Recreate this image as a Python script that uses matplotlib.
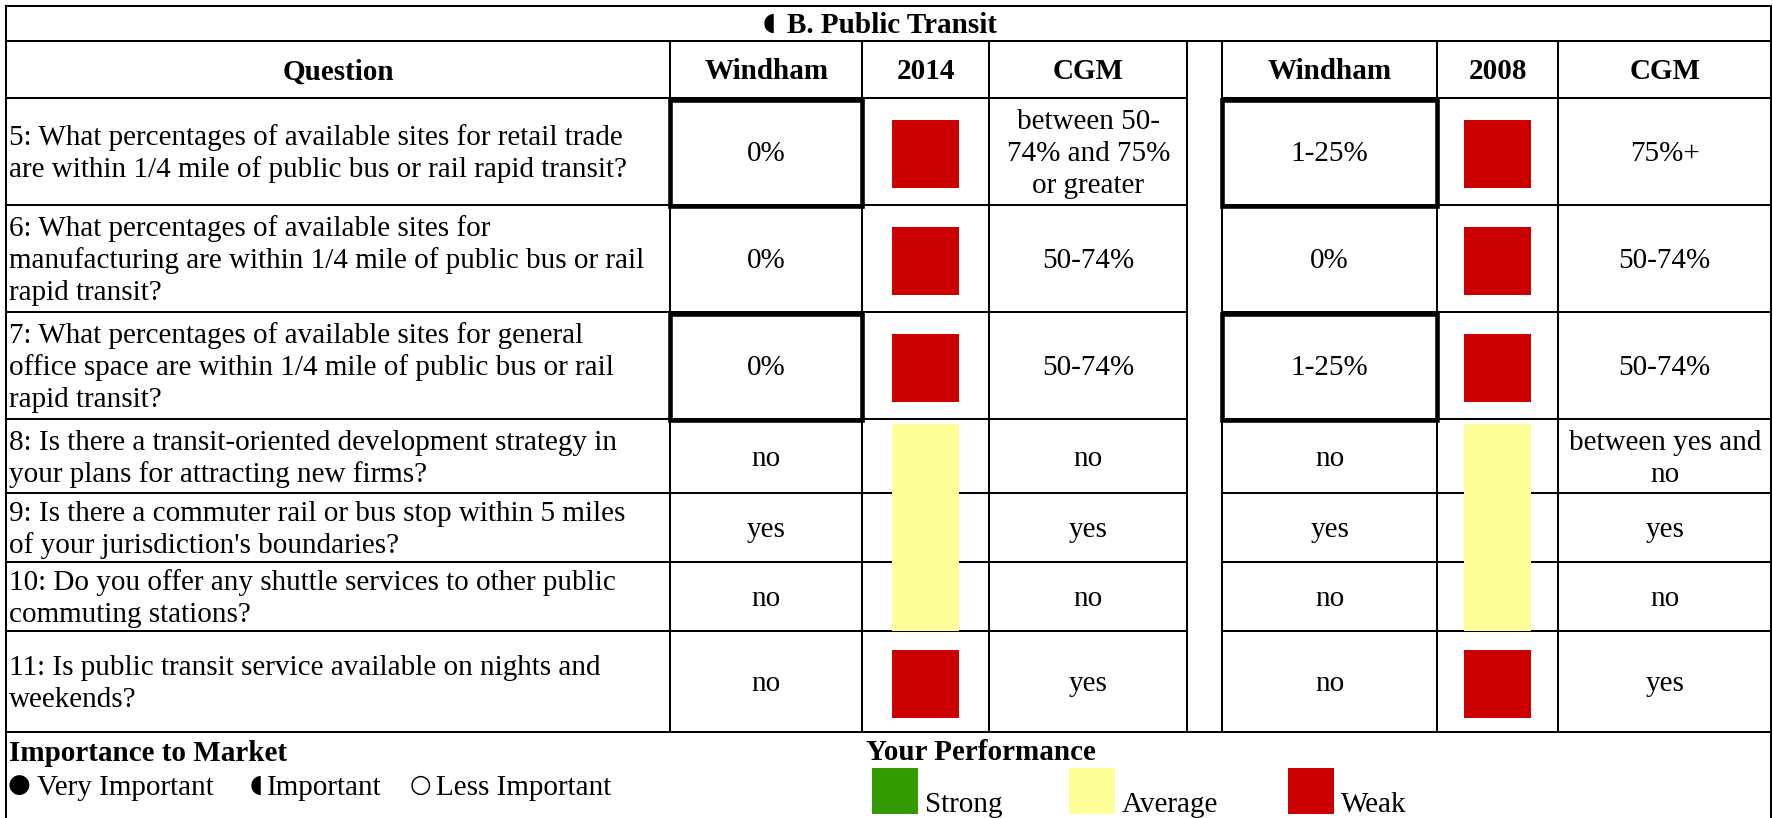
import matplotlib
matplotlib.use("Agg")
import matplotlib.pyplot as plt
from matplotlib.patches import Rectangle
from matplotlib.textpath import TextPath
from matplotlib.font_manager import FontProperties

# ---------------- data ----------------
title_symbol = "◖"
title_text = "B. Public Transit"
headers = ["Question", "Windham", "2014", "CGM", "", "Windham", "2008", "CGM"]
questions = [
    "5: What percentages of available sites for retail trade\nare within 1/4 mile of public bus or rail rapid transit?",
    "6: What percentages of available sites for\nmanufacturing are within 1/4 mile of public bus or rail\nrapid transit?",
    "7: What percentages of available sites for general\noffice space are within 1/4 mile of public bus or rail\nrapid transit?",
    "8: Is there a transit-oriented development strategy in\nyour plans for attracting new firms?",
    "9: Is there a commuter rail or bus stop within 5 miles\nof your jurisdiction's boundaries?",
    "10: Do you offer any shuttle services to other public\ncommuting stations?",
    "11: Is public transit service available on nights and\nweekends?",
]
windham_2014 = ["0%", "0%", "0%", "no", "yes", "no", "no"]
perf_2014 = ["Weak", "Weak", "Weak", "Average", "Average", "Average", "Weak"]
cgm_2014 = ["between 50-\n74% and 75%\nor greater", "50-74%", "50-74%", "no", "yes", "no", "yes"]
windham_2008 = ["1-25%", "0%", "1-25%", "no", "yes", "no", "no"]
perf_2008 = ["Weak", "Weak", "Weak", "Average", "Average", "Average", "Weak"]
cgm_2008 = ["75%+", "50-74%", "50-74%", "between yes and\nno", "yes", "no", "yes"]
flagged = [True, False, True, False, False, False, False]

importance_title = "Importance to Market"
importance_symbols = ["●", "◖", "○"]
importance_labels = ["Very Important", "Important", "Less Important"]
performance_title = "Your Performance"
perf_levels = ["Strong", "Average", "Weak"]
perf_colors = {"Strong": "#339900", "Average": "#FFFF99", "Weak": "#CC0000"}

# ---------------- layout ----------------
W, H = 1774, 818
col_x = [6, 670, 862.5, 989, 1187.5, 1222, 1437.5, 1558.5, 1771]
top_y, title_y, header_y = 6, 41, 98
row_y = [98, 205, 312, 419, 493, 562, 631, 732]
FS = 21
FPX = FS * 100 / 72
PITCH = 32
FAM = ["Liberation Serif", "DejaVu Sans"]
LW = 1.45
LWT = 3.3

fig = plt.figure(figsize=(W / 100, H / 100), dpi=100)
ax = fig.add_axes([0, 0, 1, 1])
ax.set_xlim(0, W)
ax.set_ylim(H, 0)
ax.axis("off")


def hline(y, x0, x1, lw=LW):
    ax.plot([x0, x1], [y, y], color="black", lw=lw, solid_capstyle="projecting", zorder=3)


def vline(x, y0, y1, lw=LW):
    ax.plot([x, x], [y0, y1], color="black", lw=lw, solid_capstyle="projecting", zorder=3)


def cell_text(x, yc, s, ha="center", weight="normal"):
    lines = s.split("\n")
    n = len(lines)
    for i, ln in enumerate(lines):
        yb = yc + (i - (n - 1) / 2) * PITCH + 0.34 * FPX
        ax.text(x, yb, ln, ha=ha, va="baseline", fontsize=FS, family=FAM,
                fontweight=weight, zorder=5)


def symbol(s, x_left, y_bottom, ink_h, weight="normal"):
    """Place a symbol glyph so that its ink has the given height (px)."""
    prop = FontProperties(family="DejaVu Sans", weight=weight)
    ext = TextPath((0, 0), s, size=1, prop=prop).get_extents()
    em_px = ink_h / ext.height
    fs = em_px * 72 / 100
    ax.text(x_left - ext.x0 * em_px, y_bottom + ext.y0 * em_px, s, ha="left",
            va="baseline", fontsize=fs, family="DejaVu Sans", fontweight=weight, zorder=5)


# outer frame
hline(top_y, col_x[0], col_x[-1])
hline(title_y, col_x[0], col_x[-1])
vline(col_x[0], top_y, H)
vline(col_x[-1], top_y, H)
gap_l, gap_r = col_x[4], col_x[5]
for y in row_y[:-1]:
    hline(y, col_x[0], gap_l)
    hline(y, gap_r, col_x[-1])
hline(row_y[-1], col_x[0], col_x[-1])
for x in col_x[1:-1]:
    vline(x, title_y, row_y[-1])

# title
symbol(title_symbol, 764, 33, 19)
ax.text(787, (top_y + title_y) / 2 + 0.34 * FPX, title_text, ha="left", va="baseline",
        fontsize=FS, family=FAM, fontweight="bold", zorder=5)
# headers
for j, h in enumerate(headers):
    if h:
        cell_text((col_x[j] + col_x[j + 1]) / 2, (title_y + header_y) / 2, h, weight="bold")

cols_data = {1: windham_2014, 3: cgm_2014, 5: windham_2008, 7: cgm_2008}
perf_cols = {2: perf_2014, 6: perf_2008}
SQ = 68
for i, q in enumerate(questions):
    y0, y1 = row_y[i], row_y[i + 1]
    yc = (y0 + y1) / 2
    cell_text(col_x[0] + 3, yc, q, ha="left")
    for j, vals in cols_data.items():
        cell_text((col_x[j] + col_x[j + 1]) / 2, yc, vals[i])
    for j, perf in perf_cols.items():
        xc = (col_x[j] + col_x[j + 1]) / 2
        if perf[i] == "Average":
            prev_avg = i > 0 and perf[i - 1] == "Average"
            ytop = y0 if prev_avg else y0 + 5
            ax.add_patch(Rectangle((xc - 33.5, ytop), 67, y1 - ytop,
                                   facecolor=perf_colors[perf[i]], edgecolor="none", zorder=4))
        else:
            ax.add_patch(Rectangle((xc - 33.5, yc + 2 - SQ / 2), 67, SQ,
                                   facecolor=perf_colors[perf[i]], edgecolor="none", zorder=4))
    if flagged[i]:
        for j in (1, 5):
            ax.add_patch(Rectangle((col_x[j], y0 + 2), col_x[j + 1] - col_x[j], y1 - y0 - 1,
                                   fill=False, edgecolor="black", lw=LWT,
                                   joinstyle="miter", zorder=6))

# legend: importance
ax.text(9, 761, importance_title, ha="left", va="baseline", fontsize=FS, family=FAM,
        fontweight="bold")
sym_x = [9, 251, 411]
sym_h = [20, 19, 19]
sym_w = ["normal", "normal", "bold"]
lab_x = [37, 267, 436]
for s, lab, xs, hs, ws, xl in zip(importance_symbols, importance_labels, sym_x, sym_h, sym_w, lab_x):
    symbol(s, xs, 795, hs, weight=ws)
    ax.text(xl, 795, lab, ha="left", va="baseline", fontsize=FS, family=FAM)

# legend: performance
ax.text(866, 760, performance_title, ha="left", va="baseline", fontsize=FS, family=FAM,
        fontweight="bold")
leg_x = [872, 1069, 1288]
for lev, x in zip(perf_levels, leg_x):
    ax.add_patch(Rectangle((x, 768), 46, 46, facecolor=perf_colors[lev], edgecolor="none"))
    ax.text(x + 53, 812, lev, ha="left", va="baseline", fontsize=FS, family=FAM)

fig.savefig("out.png", dpi=100)
